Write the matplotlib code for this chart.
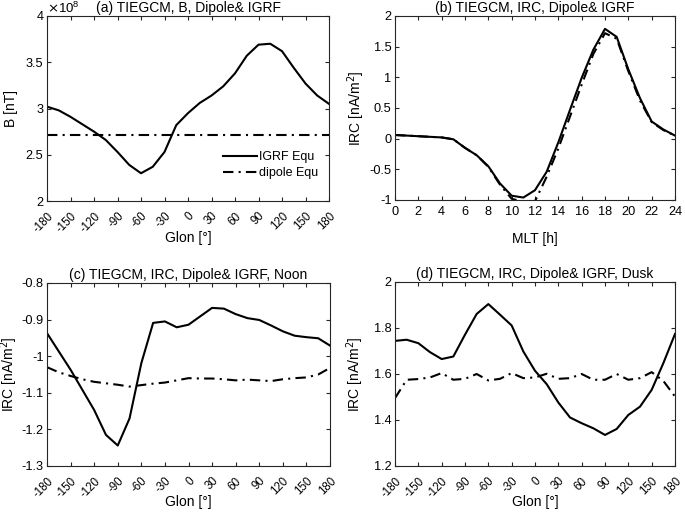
import matplotlib
matplotlib.use("Agg")
import matplotlib.pyplot as plt
from matplotlib.ticker import FuncFormatter

plt.rcParams['font.family'] = ['Liberation Sans', 'DejaVu Sans']
plt.rcParams['font.size'] = 10
plt.rcParams['axes.linewidth'] = 0.8

# ---------------- data ----------------
glon = list(range(-180, 181, 15))
glon_ticks = list(range(-180, 181, 30))
mlt = list(range(0, 25))
mlt_ticks = list(range(0, 25, 2))

# (a) B, units of 1e8 nT (as shown on axis)
b_igrf = [3.02, 2.98, 2.91, 2.83, 2.75, 2.66, 2.53, 2.39, 2.30, 2.37, 2.53, 2.82,
          2.95, 3.06, 3.14, 3.24, 3.38, 3.57, 3.69, 3.70, 3.62, 3.44, 3.27, 3.14, 3.05]
b_dipole = [2.71] * 25
b_scale = 1e8

# (b) IRC vs MLT
irc_mlt_igrf = [0.06, 0.05, 0.04, 0.03, 0.02, -0.01, -0.15, -0.27, -0.45, -0.73, -0.93, -0.96,
                -0.84, -0.54, -0.06, 0.47, 0.99, 1.45, 1.79, 1.66, 1.13, 0.66, 0.28, 0.15, 0.05]
irc_mlt_dipole = [0.06, 0.05, 0.04, 0.03, 0.02, -0.01, -0.15, -0.27, -0.46, -0.75, -0.98, -1.03,
                  -1.02, -0.62, -0.16, 0.36, 0.88, 1.38, 1.72, 1.63, 1.10, 0.62, 0.27, 0.14, 0.05]

# (c) IRC vs Glon, noon
irc_noon_igrf = [-0.937, -0.987, -1.037, -1.092, -1.147, -1.215, -1.244, -1.170, -1.019, -0.909,
                 -0.905, -0.921, -0.914, -0.891, -0.868, -0.870, -0.885, -0.896, -0.901, -0.916,
                 -0.932, -0.944, -0.948, -0.951, -0.971]
irc_noon_dipole = [-1.030, -1.044, -1.054, -1.063, -1.070, -1.074, -1.078, -1.083, -1.079, -1.075,
                   -1.072, -1.066, -1.060, -1.061, -1.061, -1.063, -1.066, -1.064, -1.066, -1.068,
                   -1.063, -1.060, -1.058, -1.050, -1.032]

# (d) IRC vs Glon, dusk
irc_dusk_igrf = [1.744, 1.749, 1.734, 1.695, 1.665, 1.676, 1.771, 1.861, 1.904, 1.858, 1.811,
                 1.698, 1.614, 1.556, 1.476, 1.411, 1.386, 1.364, 1.335, 1.361, 1.422, 1.458,
                 1.531, 1.647, 1.774]
irc_dusk_dipole = [1.495, 1.575, 1.578, 1.585, 1.604, 1.575, 1.579, 1.600, 1.572, 1.579, 1.604,
                   1.582, 1.585, 1.601, 1.579, 1.582, 1.600, 1.575, 1.575, 1.600, 1.575, 1.582,
                   1.608, 1.570, 1.502]

titles = ["(a) TIEGCM, B, Dipole& IGRF",
          "(b) TIEGCM, IRC, Dipole& IGRF",
          "(c) TIEGCM, IRC, Dipole& IGRF, Noon",
          "(d) TIEGCM, IRC, Dipole& IGRF, Dusk"]

# ---------------- figure ----------------
W, H = 685, 513
fig = plt.figure(figsize=(W / 100, H / 100), dpi=100)

def pos(l, r, t, b):
    return [l / W, 1 - b / H, (r - l) / W, (b - t) / H]

ax_a = fig.add_axes(pos(47, 329, 16, 201))
ax_b = fig.add_axes(pos(395, 675, 16, 200))
ax_c = fig.add_axes(pos(47, 330, 283, 466))
ax_d = fig.add_axes(pos(395, 675, 282, 466))

frame_col = '#262626'
dd = (0, (5, 2.5, 1, 2.5))
lw = 1.5
fmt = FuncFormatter(lambda v, p: '%g' % round(v, 6))

def style(ax):
    ax.tick_params(direction='in', length=3, width=0.8, top=True, right=True,
                   colors=frame_col, labelcolor='black', labelsize=9.2)
    ax.tick_params(axis='y', pad=2.5)
    ax.tick_params(axis='x', pad=4.5)
    for s in ax.spines.values():
        s.set_color(frame_col)
    ax.yaxis.set_major_formatter(fmt)
    ax.xaxis.set_major_formatter(fmt)

def set_labels(ax, xlabel, ylabel, ylab_x, xlab_px=30):
    ax.set_xlabel(xlabel)
    ax.set_ylabel(ylabel)
    h_px = ax.get_position().height * H
    ax.xaxis.set_label_coords(0.5, -xlab_px / h_px)
    ax.xaxis.label.set_va('top')
    ax.yaxis.set_label_coords(ylab_x, 0.5)
    ax.yaxis.label.set_va('center')
    ax.yaxis.label.set_ha('center')

def glon_axis(ax):
    ax.set_xlim(-180, 180)
    ax.set_xticks(glon_ticks)
    ax.tick_params(axis='x', pad=6.5, labelsize=8.3)
    for lab in ax.get_xticklabels():
        lab.set_rotation(45)
        lab.set_ha('right')
        lab.set_va('top')
        lab.set_rotation_mode('anchor')

# (a)
b_igrf_v = [v * b_scale for v in b_igrf]
b_dip_v = [v * b_scale for v in b_dipole]
ax_a.plot(glon, b_igrf_v, color='black', lw=lw, label='IGRF Equ')
ax_a.plot(glon, b_dip_v, color='black', lw=lw, linestyle=dd, label='dipole Equ')
ax_a.set_ylim(2 * b_scale, 4 * b_scale)
ax_a.set_yticks([v * b_scale for v in [2, 2.5, 3, 3.5, 4]])
style(ax_a)
ax_a.yaxis.set_major_formatter(FuncFormatter(lambda v, p: '%g' % round(v / b_scale, 6)))
glon_axis(ax_a)
set_labels(ax_a, "Glon [°]", "B [nT]", -36 / 282)
ax_a.text(0.0, 1.0, r"$\times\mathregular{10^{8}}$", transform=ax_a.transAxes,
          ha='left', va='bottom', fontsize=9.5)
ax_a.set_title(titles[0], fontsize=10, pad=3)
ax_a.legend(loc='lower right', bbox_to_anchor=(0.98, 0.09), frameon=False, fontsize=9,
            handlelength=2.7, handletextpad=0.2, labelspacing=0.35, borderaxespad=0)

# (b)
ax_b.plot(mlt, irc_mlt_dipole, color='black', lw=lw, linestyle=dd)
ax_b.plot(mlt, irc_mlt_igrf, color='black', lw=lw)
ax_b.set_xlim(0, 24)
ax_b.set_ylim(-1, 2)
ax_b.set_xticks(mlt_ticks)
ax_b.set_yticks([-1, -0.5, 0, 0.5, 1, 1.5, 2])
style(ax_b)
set_labels(ax_b, "MLT [h]", "IRC [nA/m$^2$]", -39 / 280, xlab_px=32)
ax_b.set_title(titles[1], fontsize=10, pad=3)

# (c)
ax_c.plot(glon, irc_noon_igrf, color='black', lw=lw)
ax_c.plot(glon, irc_noon_dipole, color='black', lw=lw, linestyle=dd)
ax_c.set_ylim(-1.3, -0.8)
ax_c.set_yticks([-1.3, -1.2, -1.1, -1.0, -0.9, -0.8])
style(ax_c)
glon_axis(ax_c)
set_labels(ax_c, "Glon [°]", "IRC [nA/m$^2$]", -37.5 / 283, xlab_px=29)
ax_c.set_title(titles[2], fontsize=10, pad=3)

# (d)
ax_d.plot(glon, irc_dusk_igrf, color='black', lw=lw)
ax_d.plot(glon, irc_dusk_dipole, color='black', lw=lw, linestyle=dd)
ax_d.set_ylim(1.2, 2.0)
ax_d.set_yticks([1.2, 1.4, 1.6, 1.8, 2.0])
style(ax_d)
glon_axis(ax_d)
set_labels(ax_d, "Glon [°]", "IRC [nA/m$^2$]", -40 / 280, xlab_px=29)
ax_d.set_title(titles[3], fontsize=10, pad=3)

fig.savefig("out.png", dpi=100)
